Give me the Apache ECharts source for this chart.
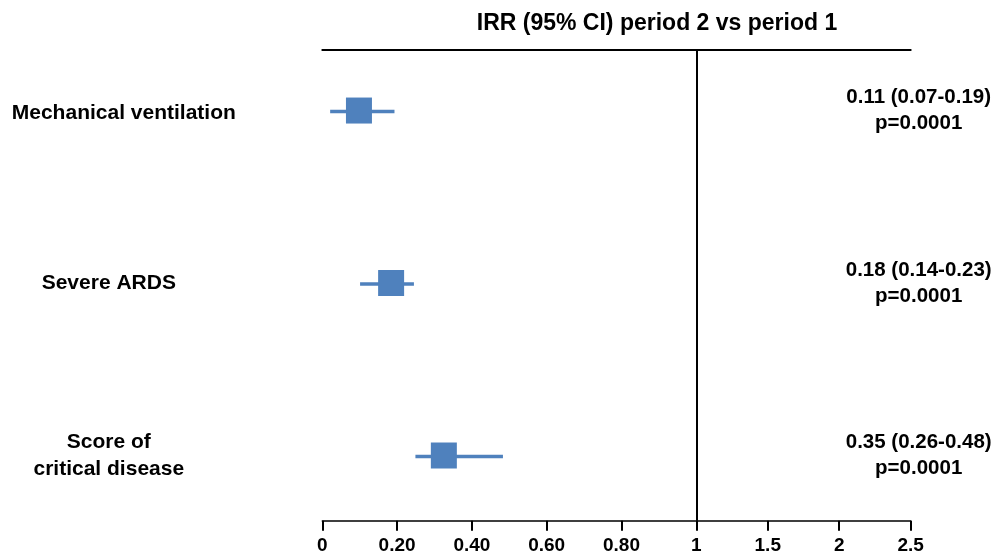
<!DOCTYPE html>
<html>
<head>
<meta charset="utf-8">
<script src="https://cdn.jsdelivr.net/npm/echarts@6/dist/echarts.min.js"></script>
<style>
html,body{margin:0;padding:0;background:#fff;}
#chart{width:998px;height:553px;}
</style>
</head>
<body>
<div id="chart"></div>
<script>
// ---- data ----
const categories = ['Mechanical ventilation', 'Severe ARDS', 'Score of\ncritical disease'];
const irr = [0.098, 0.184, 0.325];
const ciLow = [0.021, 0.101, 0.249];
const ciHigh = [0.193, 0.245, 0.483];
const resultLabels = ['0.11 (0.07-0.19)\np=0.0001', '0.18 (0.14-0.23)\np=0.0001', '0.35 (0.26-0.48)\np=0.0001'];
const tickValues = [0, 0.2, 0.4, 0.6, 0.8, 1, 1.5, 2, 2.5];
const tickLabels = ['0', '0.20', '0.40', '0.60', '0.80', '1', '1.5', '2', '2.5'];
const titleText = 'IRR (95% CI) period 2 vs period 1';

// broken x scale: 0..1 linear, above 1 compressed
const K = 0.3822;
function tx(v) { return v <= 1 ? v : 1 + (v - 1) * K; }
const xMax = tx(2.5);
const tickPos = tickValues.map(tx);
const rows = categories.map((_, i) => i);

const FONT = "'Liberation Sans', Arial, sans-serif";
const BLUE = '#4F81BD';

const chart = echarts.init(document.getElementById('chart'), null, {renderer: 'canvas'});
chart.setOption({
  animation: false,
  backgroundColor: '#fff',
  title: {
    text: titleText,
    left: 652,
    top: 7,
    textAlign: 'center',
    textStyle: {fontFamily: FONT, fontWeight: 'bold', fontSize: 23, color: '#000'}
  },
  grid: {left: 322.3, right: 87.3, top: 50, bottom: 32.3, containLabel: false, outerBoundsMode: 'none'},
  xAxis: [{
    type: 'value', position: 'bottom', min: 0, max: xMax,
    splitLine: {show: false},
    axisLine: {show: true, onZero: false, lineStyle: {color: '#000', width: 1.5}},
    axisTick: {show: true, customValues: tickPos, length: 10, lineStyle: {color: '#000', width: 2}},
    axisLabel: {
      show: true, customValues: tickPos, margin: 16,
      fontFamily: FONT, fontWeight: 'bold', fontSize: 19, color: '#000',
      formatter: function (val) {
        let best = 0;
        for (let i = 0; i < tickPos.length; i++) {
          if (Math.abs(tickPos[i] - val) < Math.abs(tickPos[best] - val)) best = i;
        }
        return tickLabels[best];
      }
    }
  }, {
    type: 'value', position: 'top', min: 0, max: xMax,
    splitLine: {show: false},
    axisLine: {show: true, onZero: false, lineStyle: {color: '#000', width: 2}},
    axisTick: {show: false},
    axisLabel: {show: false}
  }],
  yAxis: [{
    type: 'value', position: 'left', inverse: true, min: -0.351, max: 2.378,
    splitLine: {show: false}, axisLine: {show: false}, axisTick: {show: false},
    axisLabel: {
      show: true, customValues: rows, margin: 213.5, align: 'center',
      fontFamily: FONT, fontWeight: 'bold', fontSize: 21, color: '#000', lineHeight: 27,
      formatter: function (val) {
        const i = Math.round(val);
        if (i === 0) return '{m|' + categories[i] + '}';
        return categories[i];
      },
      rich: {
        m: {fontFamily: FONT, fontWeight: 'bold', fontSize: 21, color: '#000', padding: [6, 0, 0, 30]}
      }
    }
  }, {
    type: 'value', position: 'right', inverse: true, min: -0.351, max: 2.378,
    splitLine: {show: false}, axisLine: {show: false}, axisTick: {show: false},
    axisLabel: {
      show: true, customValues: rows, margin: 8, align: 'center',
      fontFamily: FONT, fontWeight: 'bold', fontSize: 20.5, color: '#000', lineHeight: 26,
      padding: [0, 0, 2, 0],
      formatter: function (val) { return resultLabels[Math.round(val)]; }
    }
  }],
  series: [{
    type: 'custom',
    xAxisIndex: 0, yAxisIndex: 0,
    data: rows.map(i => [tx(ciLow[i]), tx(ciHigh[i]), i]),
    encode: {x: [0, 1], y: 2},
    renderItem: function (params, api) {
      const p1 = api.coord([api.value(0), api.value(2)]);
      const p2 = api.coord([api.value(1), api.value(2)]);
      return {
        type: 'line',
        shape: {x1: p1[0], y1: p1[1] + 1, x2: p2[0], y2: p2[1] + 1},
        style: {stroke: BLUE, lineWidth: 3.5}
      };
    },
    z: 2
  }, {
    type: 'scatter',
    xAxisIndex: 0, yAxisIndex: 0,
    symbol: 'rect', symbolSize: 26,
    itemStyle: {color: BLUE, opacity: 1},
    data: rows.map(i => [tx(irr[i]), i]),
    z: 3,
    markLine: {
      silent: true, symbol: 'none', animation: false,
      label: {show: false},
      lineStyle: {color: '#000', width: 2, type: 'solid'},
      data: [{xAxis: tx(1)}]
    }
  }]
});
</script>
</body>
</html>
